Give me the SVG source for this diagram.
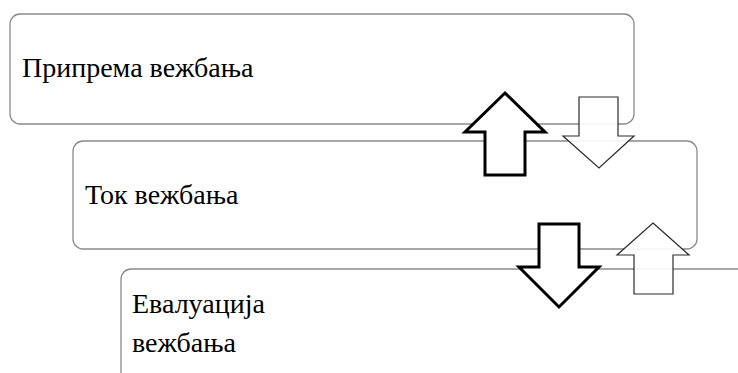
<svg xmlns="http://www.w3.org/2000/svg" width="738" height="373" viewBox="0 0 738 373">
  <style>
    .box { fill: #ffffff; stroke: #8a8a8a; stroke-width: 1.3; }
    .label { font-family: "Liberation Serif", "Times New Roman", serif; font-size: 28px; fill: #000000; }
    .bold-arrow { fill: #ffffff; stroke: #000000; stroke-width: 3; stroke-linejoin: miter; }
    .thin-arrow { fill: #ffffff; fill-opacity: 0.9; stroke: #2b2b2b; stroke-width: 1.2; stroke-linejoin: miter; }
  </style>
  <rect width="738" height="373" fill="#ffffff"/>

  <g id="node-priprema">
    <rect class="box" x="10" y="14" width="624" height="110" rx="10"/>
    <text class="label" x="22" y="77">Припрема вежбања</text>
  </g>

  <g id="node-tok">
    <rect class="box" x="73" y="141" width="624" height="108" rx="10"/>
    <text class="label" x="85" y="204">Ток вежбања</text>
  </g>

  <g id="node-evaluacija">
    <rect class="box" x="121" y="269" width="640" height="130" rx="10"/>
    <text class="label" x="132" y="313">Евалуација</text>
    <text class="label" x="132" y="352">вежбања</text>
  </g>

  <g id="connectors">
    <!-- feedback from Ток to Припрема -->
    <polygon class="bold-arrow" points="505,93 545,132 525,132 525,175 485,175 485,132 465,132"/>
    <!-- Припрема to Ток -->
    <polygon class="thin-arrow" points="579,97 618,97 618,136 634,136 599,168 563,136 579,136"/>
    <!-- Ток to Евалуација -->
    <polygon class="bold-arrow" points="539,224 579,224 579,267 599,267 559,307 519,267 539,267"/>
    <!-- feedback from Евалуација to Ток -->
    <polygon class="thin-arrow" points="653,223 689,255 673,255 673,294 634,294 634,255 617,255"/>
  </g>
</svg>
